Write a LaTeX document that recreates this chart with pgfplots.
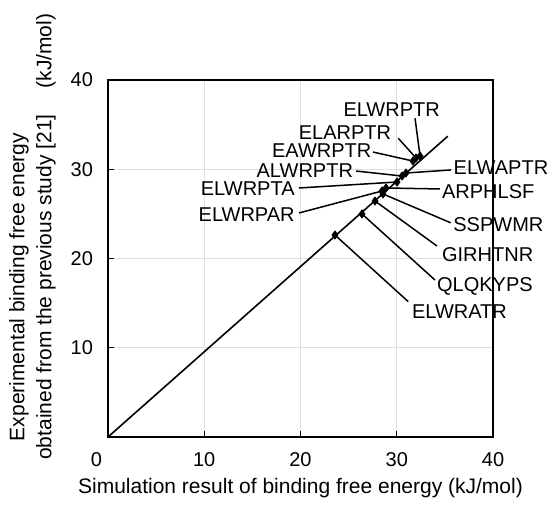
\documentclass[border=0pt]{standalone}
\usepackage{pgfplots}
\pgfplotsset{compat=1.18}
\usepackage{fontspec}
\setmainfont{Liberation Sans}
\pgfplotstableread{
x y
32.42 31.48
32.00 31.26
31.69 30.92
30.96 29.58
30.55 29.24
30.03 28.57
28.88 27.90
28.47 27.56
28.57 27.23
27.74 26.44
26.39 24.99
23.58 22.63
}\pts
\begin{document}
\fontsize{10}{12}\selectfont
\begin{tikzpicture}
\begin{axis}[name=ax,
  scale only axis, width=192.5pt, height=178.5pt,
  xmin=0, xmax=40, ymin=0, ymax=40,
  xtick={0,10,20,30,40}, ytick={10,20,30,40},
  xticklabels={\makebox[0pt][r]{0\hspace{3pt}},10,20,30,40},
  yticklabels={10,20,30,40},
  grid=major, major grid style={gray!25, line width=0.5pt},
  axis line style={line width=1pt},
  tick style={black, line width=0.5pt}, major tick length=3pt, tick align=inside,
  tick pos=left,
  tick label style={font=\fontsize{10}{12}\selectfont},
  /pgf/number format/assume math mode=true,
  xticklabel style={yshift=-4pt}, yticklabel style={xshift=-4pt},
  xlabel={Simulation result of binding free energy (kJ/mol)},
  xlabel style={at={(axis description cs:0.5,0)}, anchor=center, yshift=-25.5pt, font=\fontsize{10.5}{12}\selectfont},
  clip=false,
]
\addplot[black, line width=0.8pt] coordinates {(0,0) (35.3,33.7)};
\addplot[only marks, mark=diamond*, mark size=2pt, black] table {\pts};

\begin{scope}[line width=0.75pt]
\draw (axis cs:31.90,35.71) -- (axis cs:32.42,31.48);
\draw (axis cs:30.16,33.47) -- (axis cs:32.00,31.26);
\draw (axis cs:27.53,31.93) -- (axis cs:31.69,30.92);
\draw (axis cs:25.77,29.80) -- (axis cs:30.55,29.24);
\draw (axis cs:19.84,27.90) -- (axis cs:30.03,28.57);
\draw (axis cs:19.84,25.10) -- (axis cs:28.47,27.56);
\draw (axis cs:35.64,29.92) -- (axis cs:30.96,29.58);
\draw (axis cs:34.49,27.79) -- (axis cs:28.88,27.90);
\draw (axis cs:35.60,24.00) -- (axis cs:28.57,27.23);
\draw (axis cs:34.18,21.40) -- (axis cs:27.74,26.44);
\draw (axis cs:33.97,17.59) -- (axis cs:26.39,24.99);
\draw (axis cs:31.20,15.16) -- (axis cs:23.58,22.63);
\end{scope}

\begin{scope}[every node/.style={inner sep=0pt, font=\fontsize{10}{12}\selectfont}]
\node[anchor=center] at (axis cs:29.47,36.64) {ELWRPTR};
\node[anchor=center] at (axis cs:24.62,34.10) {ELARPTR};
\node[anchor=east] at (axis cs:27.40,32.04) {EAWRPTR};
\node[anchor=east] at (axis cs:25.49,29.80) {ALWRPTR};
\node[anchor=east] at (axis cs:19.43,27.79) {ELWRPTA};
\node[anchor=east] at (axis cs:19.43,24.87) {ELWRPAR};
\node[anchor=west] at (axis cs:35.88,30.22) {ELWAPTR};
\node[anchor=west] at (axis cs:34.67,27.48) {ARPHLSF};
\node[anchor=west] at (axis cs:35.84,23.75) {SSPWMR};
\node[anchor=west] at (axis cs:34.67,20.39) {GIRHTNR};
\node[anchor=west] at (axis cs:34.15,16.84) {QLQKYPS};
\node[anchor=west] at (axis cs:31.55,14.04) {ELWRATR};
\end{scope}

\node[rotate=90, align=center, font=\fontsize{10.5}{13.5}\selectfont, inner sep=0pt]
  at ([xshift=-37.75pt]rel axis cs:0,0.42)
  {Experimental binding free energy\\obtained from the previous study [21]};
\node[rotate=90, inner sep=0pt, font=\fontsize{10.5}{12}\selectfont]
  at ([xshift=-31pt]rel axis cs:0,1.081) {(kJ/mol)};
\end{axis}
\path ([shift={(-54pt,-33pt)}]ax.south west) rectangle ([shift={(28.5pt,40pt)}]ax.north east);
\end{tikzpicture}
\end{document}
